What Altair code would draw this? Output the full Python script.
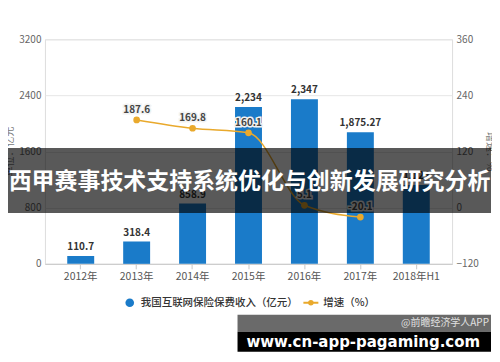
import altair as alt
import pandas as pd

years = ["2012年", "2013年", "2014年", "2015年", "2016年", "2017年", "2018年H1"]
premium = [110.7, 318.4, 858.9, 2234, 2347, 1875.27, 1124]
premium_labels = ["110.7", "318.4", "858.9", "2,234", "2,347", "1,875.27", "1,124"]
growth_years = ["2013年", "2014年", "2015年", "2016年", "2017年"]
growth = [187.6, 169.8, 160.1, 5.1, -20.1]
growth_labels = ["187.6", "169.8", "160.1", "5.1", "-20.1"]

left_ticks = [0, 800, 1600, 2400, 3200]
right_ticks = [-120, 0, 120, 240, 360]

BLUE = "#1a7bc9"
ORANGE = "#e9a92c"
FONT = "Noto Sans CJK SC"

bars_df = pd.DataFrame({"year": years, "premium": premium, "label": premium_labels})
growth_df = pd.DataFrame({"year": growth_years, "growth": growth, "label": growth_labels})

xscale = alt.Scale(domain=years, paddingInner=0, paddingOuter=0.14)
xaxis = alt.Axis(
    title=None, labelAngle=0, labelFont=FONT, labelFontSize=10.5, labelColor="#555",
    domainColor="#c8c8c8", tickColor="#c8c8c8", tickSize=5, labelPadding=3,
    grid=False,
)
x = alt.X("year:N", scale=xscale, axis=xaxis, sort=years)

yl = alt.Y(
    "premium:Q",
    scale=alt.Scale(domain=[0, 3200], nice=False),
    axis=alt.Axis(
        values=left_ticks, format="d", title="单位：亿元", titleFont=FONT, titleFontSize=10,
        titleColor="#777", titleFontWeight="normal", titleX=-35, titleY=112,
        titleAngle=-90, titleAlign="center", titleBaseline="middle",
        labelFont=FONT, labelFontSize=10, labelColor="#666", labelPadding=4,
        domain=False, ticks=False, grid=True, gridColor="#e6e6e6",
    ),
)

bars = alt.Chart(bars_df).mark_bar(size=27, color=BLUE).encode(x=x, y=yl)
bar_text = alt.Chart(bars_df).mark_text(
    baseline="bottom", dy=-4, font=FONT, fontSize=10, fontWeight="bold", color="#333"
).encode(x=x, y=alt.Y("premium:Q"), text="label:N")
left_layer = alt.layer(bars, bar_text)

yr = alt.Y(
    "growth:Q",
    scale=alt.Scale(domain=[-120, 360], nice=False),
    axis=alt.Axis(
        orient="right", values=right_ticks, format="d", title="增速：%", titleFont=FONT,
        titleFontSize=10, titleColor="#777", titleFontWeight="normal",
        titleX=37, titleY=112, titleAngle=90, titleAlign="center",
        titleBaseline="middle", labelFont=FONT, labelFontSize=10,
        labelColor="#666", labelPadding=4, domain=False, ticks=False, grid=False,
    ),
)
gx = alt.X("year:N", scale=xscale, sort=years)
line = alt.Chart(growth_df).mark_line(color=ORANGE, strokeWidth=1.5, interpolate="monotone").encode(x=gx, y=yr)
pts = alt.Chart(growth_df).mark_circle(color=ORANGE, size=45, opacity=1).encode(x=gx, y=alt.Y("growth:Q"))
halo = alt.Chart(growth_df).mark_text(
    baseline="bottom", dy=-5, font=FONT, fontSize=10, fontWeight="bold",
    color="white", stroke="#f2f2f2", strokeWidth=3,
).encode(x=gx, y=alt.Y("growth:Q"), text="label:N")
gtext = alt.Chart(growth_df).mark_text(
    baseline="bottom", dy=-5, font=FONT, fontSize=10, fontWeight="bold", color="#444"
).encode(x=gx, y=alt.Y("growth:Q"), text="label:N")
right_layer = alt.layer(line, pts, halo, gtext)

one = pd.DataFrame({"k": [0]})

# legend (manual)
leg_dot = alt.Chart(one).mark_circle(color=BLUE, size=75, opacity=1).encode(
    x=alt.value(85), y=alt.value(264))
leg_t1 = alt.Chart(one).mark_text(align="left", baseline="middle", font=FONT, fontSize=10.5,
                                  fontWeight=500, color="#333").encode(
    x=alt.value(96), y=alt.value(264), text=alt.value("我国互联网保险保费收入（亿元）"))
leg_line = alt.Chart(one).mark_rule(color=ORANGE, strokeWidth=2).encode(
    x=alt.value(259), x2=alt.value(274), y=alt.value(264))
leg_pt = alt.Chart(one).mark_circle(color=ORANGE, size=30, opacity=1).encode(
    x=alt.value(266.5), y=alt.value(264))
leg_t2 = alt.Chart(one).mark_text(align="left", baseline="middle", font=FONT, fontSize=10.5,
                                  fontWeight=500, color="#333").encode(
    x=alt.value(279), y=alt.value(264), text=alt.value("增速（%）"))

# overlay banners
banner = alt.Chart(one).mark_rect(color="black", opacity=0.65).encode(
    x=alt.value(-37), x2=alt.value(447), y=alt.value(109), y2=alt.value(174))
banner_t = alt.Chart(one).mark_text(
    align="center", baseline="middle", font=FONT, fontSize=23, fontWeight="bold", color="white"
).encode(x=alt.value(205), y=alt.value(143), text=alt.value("西甲赛事技术支持系统优化与创新发展研究分析"))
gray_bar = alt.Chart(one).mark_rect(color="#6a6a6a").encode(
    x=alt.value(193), x2=alt.value(447), y=alt.value(276), y2=alt.value(293))
gray_t = alt.Chart(one).mark_text(align="right", baseline="middle", font=FONT, fontSize=10, color="#e0e0e0").encode(
    x=alt.value(445), y=alt.value(284.5), text=alt.value("@前瞻经济学人APP"))
black_bar = alt.Chart(one).mark_rect(color="black").encode(
    x=alt.value(193), x2=alt.value(447), y=alt.value(293), y2=alt.value(313))
black_t = alt.Chart(one).mark_text(align="center", baseline="middle", font="DejaVu Sans", fontSize=15,
                                   fontWeight="bold", color="white").encode(
    x=alt.value(319), y=alt.value(303), text=alt.value("www.cn-app-pagaming.com"))

chart = alt.layer(
    left_layer, right_layer,
    leg_dot, leg_t1, leg_line, leg_pt, leg_t2,
    banner, banner_t, gray_bar, gray_t, black_bar, black_t,
).resolve_scale(y="independent").properties(
    width=408, height=225,
    autosize=alt.AutoSizeParams(type="none"),
    padding={"left": 37, "top": 31, "right": 40, "bottom": 92},
).configure_view(stroke=None).configure(background="white")

chart.save("out.html", embed_options={"renderer": "svg", "actions": False})
